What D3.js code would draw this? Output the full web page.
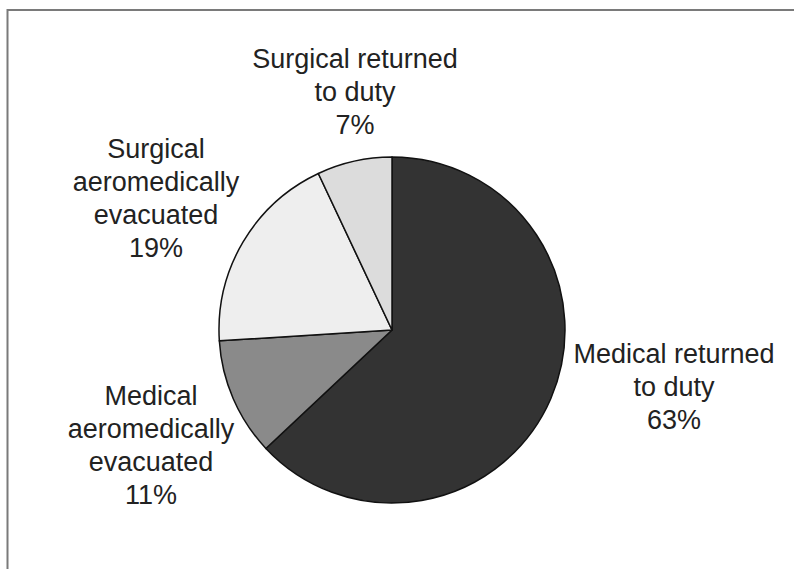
<!DOCTYPE html>
<html>
<head>
<meta charset="utf-8">
<script src="https://cdn.jsdelivr.net/npm/d3@7"></script>
<style>
  body { margin: 0; background: #fff; }
  svg { display: block; }
</style>
</head>
<body>
<svg id="chart" width="794" height="569"></svg>
<script>
// Chart data
const categories = ["Medical returned to duty", "Medical aeromedically evacuated", "Surgical aeromedically evacuated", "Surgical returned to duty"];
const values = [63, 11, 19, 7];
const labelLines = [
  ["Medical returned", "to duty", "63%"],
  ["Medical", "aeromedically", "evacuated", "11%"],
  ["Surgical", "aeromedically", "evacuated", "19%"],
  ["Surgical returned", "to duty", "7%"]
];

// Layout
let width = 794;
let height = 569;
let cx = 392;
let cy = 330;
let radius = 173;
let lineHeight = 33;
let fills = ["#333333", "#8a8a8a", "#eeeeee", "#dcdcdc"];
// baseline of the first line of each label
let labelPos = [[674, 363], [151, 405], [156, 158], [355, 68]];

let svg = d3.select("svg#chart");

// frame (top and left edges only)
svg.append("path")
  .attr("d", "M7.5,569 L7.5,10 L794,10")
  .attr("fill", "none")
  .attr("stroke", "#7a7a7a")
  .attr("stroke-width", 2);

let pie = d3.pie().sort(null).value(d => d);
let arc = d3.arc().innerRadius(0).outerRadius(radius);

let g = svg.append("g")
  .attr("transform", "translate(" + cx + "," + cy + ")");

g.selectAll("path")
  .data(pie(values))
  .join("path")
  .attr("d", arc)
  .attr("fill", (d, i) => fills[i])
  .attr("stroke", "#111")
  .attr("stroke-width", 1.5)
  .attr("stroke-linejoin", "round");

// Labels
labelLines.forEach((lines, i) => {
  let t = svg.append("text")
    .attr("text-anchor", "middle")
    .attr("font-family", "'Liberation Sans', Arial, sans-serif")
    .attr("font-size", "27px")
    .attr("fill", "#222");
  lines.forEach((line, j) => {
    t.append("tspan")
      .attr("x", labelPos[i][0])
      .attr("y", labelPos[i][1] + j * lineHeight)
      .text(line);
  });
});
</script>
</body>
</html>
